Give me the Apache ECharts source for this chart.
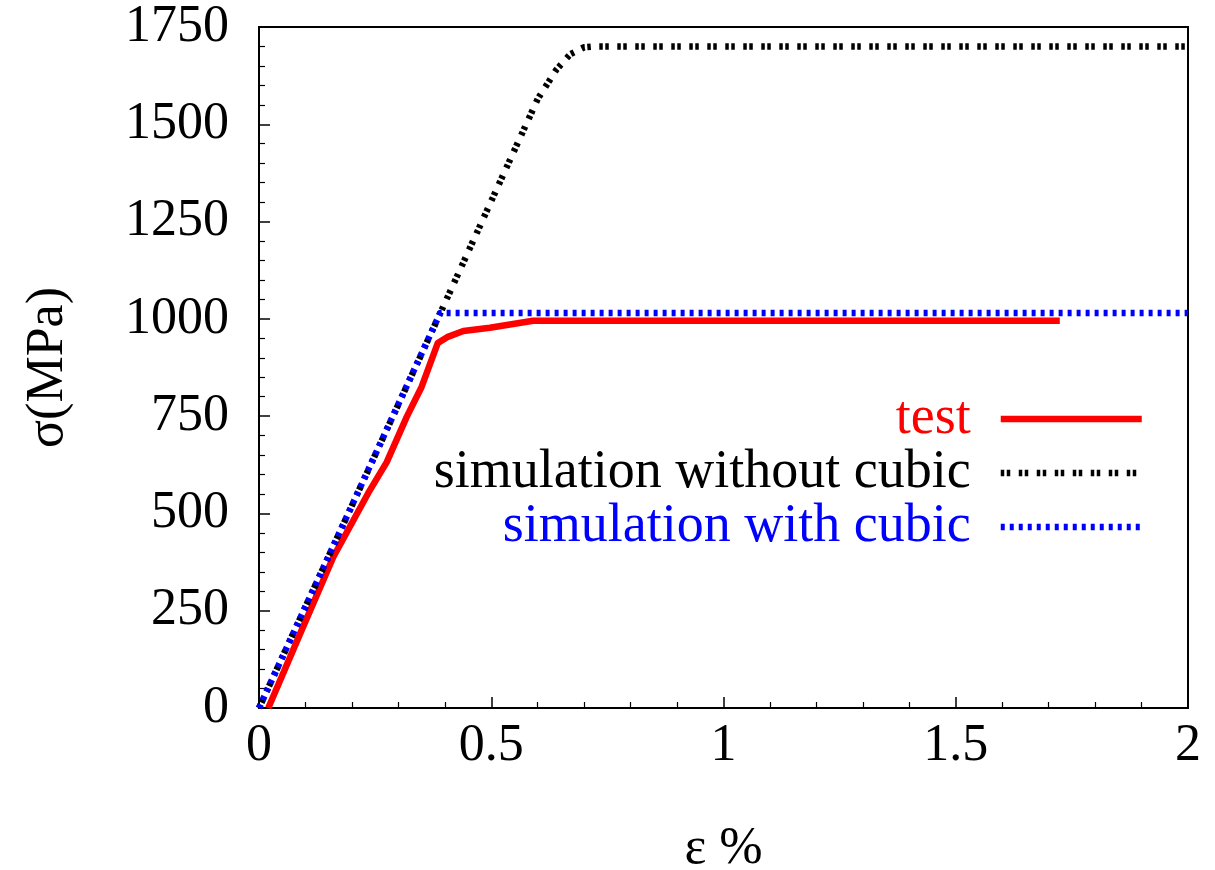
<!DOCTYPE html>
<html><head><meta charset="utf-8">
<script src="https://cdn.jsdelivr.net/npm/echarts@6/dist/echarts.min.js"></script>
<style>html,body{margin:0;padding:0;background:#fff}#c{width:1215px;height:870px}</style>
</head><body><div id="c"></div>
<script>
const seriesNames = ['test', 'simulation without cubic', 'simulation with cubic'];
const testStrain = [0.02, 0.09, 0.16, 0.235, 0.275, 0.318, 0.35, 0.385, 0.405, 0.44, 0.497, 0.59, 1.0, 1.5, 1.724];
const testStress = [0, 195, 388, 552, 632, 748, 825, 938, 953, 969, 977, 995, 995, 995, 995];
const noCubicStrain = [0, 0.39, 0.6, 0.64, 0.67, 0.70, 0.72, 2.0];
const noCubicStress = [0, 1014, 1565, 1640, 1680, 1698, 1700, 1700];
const cubicStrain = [0, 0.39, 2.0];
const cubicStress = [0, 1015, 1015];
const xTicks = [0, 0.5, 1, 1.5, 2];
const yTicks = [0, 250, 500, 750, 1000, 1250, 1500, 1750];

const pairs = (xs, ys) => xs.map((x, i) => [x, ys[i]]);
const font = '"Liberation Serif", "DejaVu Serif", serif';
const colors = ['#ff0000', '#000000', '#0000ff'];
const widths = [6.5, 6.5, 6.5];
const dashes = ['solid', [3.5, 2.5, 3.5, 8.5], [4, 5]];

const legendTops = [392, 446, 500];
const chart = echarts.init(document.getElementById('c'));
chart.setOption({
  animation: false,
  backgroundColor: '#fff',
  grid: { left: 259, right: 27, top: 27, bottom: 162, show: true, borderColor: '#000', borderWidth: 2,
          backgroundColor: 'transparent', containLabel: false, outerBoundsMode: 'none' },
  legend: seriesNames.map((n, i) => ({
    data: [{ name: n, textStyle: { color: colors[i] } }],
    right: 70, top: legendTops[i], align: 'right', orient: 'vertical',
    itemWidth: 141, itemHeight: 20, padding: 0,
    itemStyle: { opacity: 0 },
    lineStyle: { width: widths[i], color: colors[i], type: dashes[i], opacity: 1 },
    textStyle: { fontFamily: font, fontSize: 54, padding: [0, 25, 0, 0] },
    selectedMode: false
  })),
  xAxis: {
    type: 'value', min: xTicks[0], max: xTicks[xTicks.length - 1], interval: 0.5,
    name: 'ε %', nameLocation: 'middle', nameGap: 115,
    nameTextStyle: { fontFamily: font, fontSize: 52, color: '#000' },
    axisLine: { show: true, lineStyle: { color: '#000', width: 2 } },
    axisTick: { show: true, inside: true, length: 11, lineStyle: { color: '#000', width: 1.5 } },
    minorTick: { show: true, splitNumber: 5, length: 6, lineStyle: { color: '#000', width: 1.2 } },
    splitLine: { show: false },
    axisLabel: { fontFamily: font, fontSize: 52, color: '#000', margin: 12, formatter: v => String(v) }
  },
  yAxis: {
    type: 'value', min: yTicks[0], max: yTicks[yTicks.length - 1], interval: 250,
    name: 'σ(MPa)', nameLocation: 'middle', nameGap: 185,
    nameTextStyle: { fontFamily: font, fontSize: 52, color: '#000' },
    axisLine: { show: true, lineStyle: { color: '#000', width: 2 } },
    axisTick: { show: true, inside: true, length: 11, lineStyle: { color: '#000', width: 1.5 } },
    minorTick: { show: true, splitNumber: 5, length: 6, lineStyle: { color: '#000', width: 1.2 } },
    splitLine: { show: false },
    axisLabel: { fontFamily: font, fontSize: 52, color: '#000', margin: 30, formatter: v => String(v) }
  },
  series: [0, 1, 2].map(i => ({
    name: seriesNames[i], type: 'line',
    data: [pairs(testStrain, testStress), pairs(noCubicStrain, noCubicStress), pairs(cubicStrain, cubicStress)][i],
    showSymbol: false, symbol: 'none',
    lineStyle: { color: colors[i], width: widths[i], type: dashes[i], cap: 'butt', join: 'round' },
    itemStyle: { color: colors[i] }, z: 2 + i
  }))
});
</script></body></html>
